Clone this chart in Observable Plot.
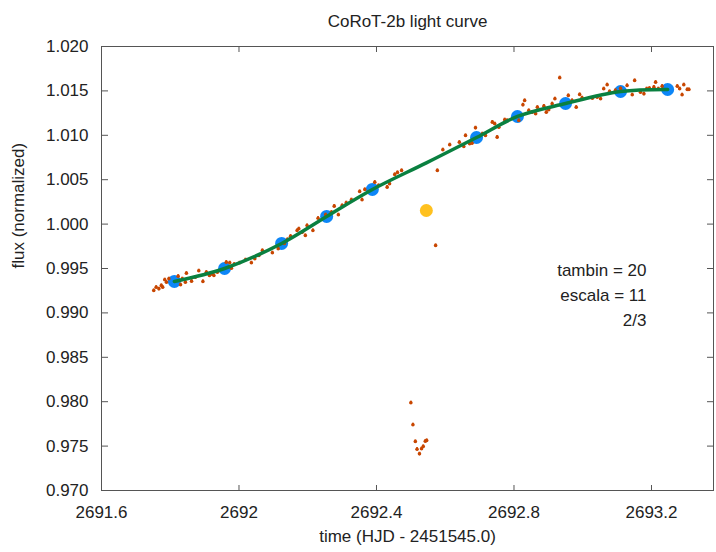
<!DOCTYPE html>
<html><head><meta charset="utf-8">
<script src="https://cdn.jsdelivr.net/npm/d3@7"></script>
<script src="https://cdn.jsdelivr.net/npm/@observablehq/plot@0.6"></script>
<style>
body{margin:0;background:#fff}
svg{font-family:"Liberation Sans",Arial,sans-serif}
</style>
</head><body><div id="chart"></div><script>
// raw photometry: [time (HJD-2451545.0), normalized flux]
const rawObs = [
[2691.752,0.99252],[2691.759,0.99289],[2691.767,0.99271],[2691.774,0.99309],[2691.778,0.99289],
[2691.784,0.99373],[2691.789,0.99346],[2691.796,0.99384],[2691.823,0.99413],[2691.830,0.99317],
[2691.835,0.99384],[2691.844,0.99346],[2691.847,0.99447],[2691.862,0.99357],[2691.873,0.99402],
[2691.883,0.99474],[2691.895,0.99354],[2691.905,0.99458],[2691.914,0.99421],[2691.922,0.99436],
[2691.927,0.99421],[2691.937,0.99458],[2691.963,0.99571],[2691.973,0.99564],[2691.978,0.99503],
[2691.986,0.99548],[2692.002,0.99564],[2692.019,0.99598],[2692.036,0.99564],[2692.046,0.99609],
[2692.058,0.99646],[2692.068,0.99703],[2692.097,0.99677],[2692.114,0.99722],[2692.132,0.99782],
[2692.141,0.99827],[2692.150,0.99864],[2692.169,0.99928],[2692.174,0.99947],[2692.184,0.99909],
[2692.193,0.99872],[2692.198,0.99984],[2692.215,0.99928],[2692.230,1.00066],[2692.252,1.00105],
[2692.269,1.00134],[2692.277,1.00202],[2692.289,1.00105],[2692.300,1.00209],[2692.312,1.00240],
[2692.327,1.00274],[2692.351,1.00367],[2692.358,1.00274],[2692.366,1.00390],[2692.395,1.00472],
[2692.406,1.00435],[2692.431,1.00416],[2692.438,1.00454],[2692.453,1.00559],[2692.461,1.00581],
[2692.473,1.00604],[2692.500,0.97988],[2692.506,0.97740],[2692.513,0.97552],[2692.518,0.97465],
[2692.525,0.97413],[2692.531,0.97470],[2692.536,0.97496],[2692.542,0.97555],[2692.546,0.97563],
[2692.572,0.99759],[2692.577,1.00604],[2692.593,1.00837],[2692.613,1.00893],[2692.641,1.00922],
[2692.654,1.00874],[2692.659,1.00998],[2692.671,1.00904],[2692.678,1.00911],[2692.688,1.01084],
[2692.708,1.01017],[2692.717,1.00998],[2692.737,1.01148],[2692.744,1.01130],[2692.751,1.00979],
[2692.756,1.01091],[2692.773,1.01175],[2692.780,1.01167],[2692.814,1.01167],[2692.826,1.01343],
[2692.831,1.01392],[2692.843,1.01279],[2692.853,1.01260],[2692.863,1.01242],[2692.868,1.01316],
[2692.887,1.01328],[2692.894,1.01260],[2692.901,1.01287],[2692.911,1.01355],[2692.919,1.01411],
[2692.933,1.01648],[2692.958,1.01448],[2692.969,1.01392],[2692.981,1.01316],[2692.991,1.01459],
[2692.998,1.01422],[2693.028,1.01418],[2693.042,1.01429],[2693.052,1.01411],[2693.061,1.01524],
[2693.071,1.01569],[2693.078,1.01493],[2693.095,1.01505],[2693.110,1.01527],[2693.129,1.01561],
[2693.144,1.01456],[2693.151,1.01617],[2693.168,1.01485],[2693.178,1.01467],[2693.186,1.01524],
[2693.194,1.01530],[2693.207,1.01542],[2693.212,1.01598],[2693.220,1.01524],[2693.231,1.01553],
[2693.275,1.01553],[2693.282,1.01524],[2693.289,1.01456],[2693.294,1.01569],[2693.304,1.01516],
[2693.309,1.01516]
];
// binned means (tambin = 20)
const binTime = [2691.812, 2691.958, 2692.124, 2692.255, 2692.388, 2692.691, 2692.810, 2692.950, 2693.110, 2693.247];
const binFlux = [0.99354, 0.99500, 0.99782, 1.00086, 1.00390, 1.00975, 1.01212, 1.01358, 1.01493, 1.01516];
// rejected (transit) bin
const outTime = [2692.545];
const outFlux = [1.00153];
// fitted trend at bin centres
const fitTime = [2691.812, 2691.958, 2692.124, 2692.255, 2692.388, 2692.545, 2692.691, 2692.810, 2692.950, 2693.110, 2693.247];
const fitFlux = [0.99354, 0.99500, 0.99782, 1.00086, 1.00390, 1.00690, 1.00975, 1.01212, 1.01358, 1.01493, 1.01516];
const xTicks = [2691.6, 2692.0, 2692.4, 2692.8, 2693.2];
const yTicks = [0.970, 0.975, 0.980, 0.985, 0.990, 0.995, 1.000, 1.005, 1.010, 1.015, 1.020];
const titleText = "CoRoT-2b light curve";
const xLabel = "time (HJD - 2451545.0)";
const yLabel = "flux (normalized)";
const notes = ["tambin = 20", "escala = 11", "2/3"];

const raw = rawObs.map(([t, f]) => ({t, f}));
const bins = binTime.map((t, i) => ({t, f: binFlux[i]}));
const outs = outTime.map((t, i) => ({t, f: outFlux[i]}));
const fit = fitTime.map((t, i) => ({t, f: fitFlux[i]}));
const errHalf = 0.00018;

const tickCol = "#555";
const txt = {fontSize: 17, fill: "#222"};
const noteMarks = notes.map((n, i) =>
  Plot.text([n], {frameAnchor: "right", textAnchor: "end", dx: -67, dy: [2, 27.5, 52.5][i], ...txt})
);
const chart = Plot.plot({
  width: 716, height: 552,
  marginLeft: 101, marginRight: 3, marginTop: 46, marginBottom: 62,
  style: {fontFamily: "'Liberation Sans', Arial, sans-serif", fontSize: "17px", color: "#222", background: "#fff"},
  x: {domain: [2691.6, 2693.3804]},
  y: {domain: [0.970, 1.020]},
  marks: [
    Plot.axisY(yTicks, {anchor: "left", tickSize: 0, tickPadding: 13, tickFormat: d3.format(".3f"), label: null, ...txt}),
    Plot.axisX(xTicks, {anchor: "bottom", tickSize: 0, tickPadding: 15, tickFormat: d => String(+d.toFixed(1)), label: null, ...txt}),
    Plot.axisY(yTicks, {anchor: "right", frameAnchor: "left", tickSize: 6, tickFormat: () => "", label: null, stroke: tickCol}),
    Plot.axisY(yTicks, {anchor: "left", frameAnchor: "right", tickSize: 6, tickFormat: () => "", label: null, stroke: tickCol}),
    Plot.axisX(xTicks, {anchor: "top", frameAnchor: "bottom", tickSize: 6, tickFormat: () => "", label: null, stroke: tickCol}),
    Plot.axisX(xTicks, {anchor: "bottom", frameAnchor: "top", tickSize: 6, tickFormat: () => "", label: null, stroke: tickCol}),
    Plot.frame({stroke: tickCol, strokeWidth: 1}),
    Plot.dot(bins, {x: "t", y: "f", r: 6.5, fill: "#0d86f7"}),
    Plot.ruleX(raw, {x: "t", y1: d => d.f - errHalf, y2: d => d.f + errHalf, stroke: "#c84600", strokeWidth: 1.9}),
    Plot.dot(raw, {x: "t", y: "f", r: 1.8, fill: "#c84600"}),
    Plot.dot(outs, {x: "t", y: "f", r: 6.5, fill: "#ffc11f"}),
    Plot.line(fit, {x: "t", y: "f", stroke: "#0a8040", strokeWidth: 3.5, curve: "catmull-rom"}),
    Plot.text([titleText], {frameAnchor: "top", dy: -32, ...txt}),
    Plot.text([xLabel], {frameAnchor: "bottom", dy: 51, ...txt}),
    Plot.text([yLabel], {frameAnchor: "left", dx: -83, rotate: -90, ...txt}),
    ...noteMarks
  ]
});
document.getElementById("chart").appendChild(chart);
</script></body></html>
